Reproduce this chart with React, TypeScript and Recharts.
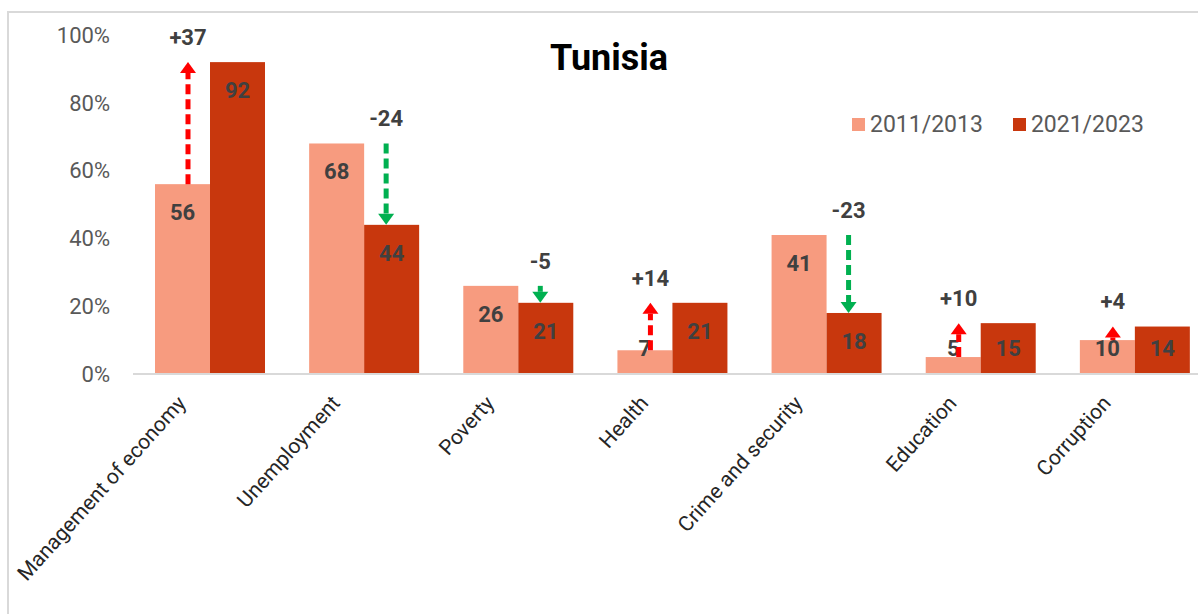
import { BarChart, Bar, XAxis, YAxis, Legend } from "recharts";

const categories = [
  "Management of economy",
  "Unemployment",
  "Poverty",
  "Health",
  "Crime and security",
  "Education",
  "Corruption",
];
const values2011 = [56, 68, 26, 7, 41, 5, 10];
const values2021 = [92, 44, 21, 21, 18, 15, 14];
const changeLabels = ["+37", "-24", "-5", "+14", "-23", "+10", "+4"];
const yTicks = [0, 20, 40, 60, 80, 100];
const seriesNames = ["2011/2013", "2021/2023"];

const data = categories.map((name, i) => ({
  name,
  early: values2011[i],
  late: values2021[i],
  change: changeLabels[i],
}));

const FONT = "Roboto, 'DejaVu Sans', sans-serif";
const LIGHT = "#F79B7F";
const DARK = "#C8370D";
const UP = "#FF0000";
const DOWN = "#00B050";

function ValueText({ cx, top, bottom, value }: { cx: number; top: number; bottom: number; value: number }) {
  const cy = Math.min(top + 28, bottom - 26);
  return (
    <text x={cx} y={cy} dy="0.36em" textAnchor="middle" fontFamily={FONT} fontWeight={700} fontSize={22} fill="#404040">
      {value}
    </text>
  );
}

function EarlyBar(props: any) {
  const { x, y, width, height, payload } = props;
  return (
    <g>
      <rect x={x} y={y} width={width} height={height} fill={LIGHT} />
      <ValueText cx={x + width / 2} top={y} bottom={y + height} value={payload.early} />
    </g>
  );
}

function Arrow({ x, from, to, color }: { x: number; from: number; to: number; color: string }) {
  const up = to < from;
  const head = 11;
  const half = 8;
  const lineEnd = up ? to + head : to - head;
  const hasLine = up ? lineEnd < from : lineEnd > from;
  return (
    <g>
      {hasLine && (
        <line x1={x} x2={x} y1={from} y2={lineEnd} stroke={color} strokeWidth={5} strokeDasharray="10 5" />
      )}
      <polygon points={`${x - half},${lineEnd} ${x + half},${lineEnd} ${x},${to}`} fill={color} />
    </g>
  );
}

function LateBar(props: any) {
  const { x, y, width, height, payload } = props;
  const bottom = y + height;
  const lightTop = bottom - (height * payload.early) / payload.late;
  const up = payload.late > payload.early;
  const ax = x + (up ? -0.4 : 0.4) * width;
  const labelY = Math.min(lightTop, y) - 25;
  return (
    <g>
      <rect x={x} y={y} width={width} height={height} fill={DARK} />
      <ValueText cx={x + width / 2} top={y} bottom={bottom} value={payload.late} />
      <Arrow x={ax} from={lightTop} to={y} color={up ? UP : DOWN} />
      <text x={ax} y={labelY} dy="0.36em" textAnchor="middle" fontFamily={FONT} fontWeight={700} fontSize={22} fill="#404040">
        {payload.change}
      </text>
    </g>
  );
}

function CategoryTick(props: any) {
  const { x, y, payload } = props;
  return (
    <g transform={`translate(${x - 23},${y + 30})`}>
      <text transform="rotate(-48)" textAnchor="end" fontFamily={FONT} fontSize={21} fill="#262626">
        {payload.value}
      </text>
    </g>
  );
}

function LegendContent(props: any) {
  const items = props.payload ?? [];
  return (
    <div style={{ display: "flex", alignItems: "center", fontFamily: FONT, fontSize: 23, color: "#595959" }}>
      {items.map((p: any, i: number) => (
        <div key={i} style={{ display: "flex", alignItems: "center", marginRight: 30 }}>
          <span style={{ display: "inline-block", width: 13, height: 13, background: p.color, marginRight: 5 }} />
          {p.value}
        </div>
      ))}
    </div>
  );
}

export default function App() {
  return (
    <div style={{ position: "fixed", left: 0, top: 0, width: 1198, height: 614, overflow: "hidden", background: "#fff" }}>
      <div
        style={{
          position: "absolute",
          left: 7,
          top: 11,
          width: 1240,
          height: 640,
          border: "2px solid #D9D9D9",
          background: "#fff",
        }}
      >
        <BarChart
          width={1213}
          height={611}
          data={data}
          margin={{ top: 22, right: 10, left: 0, bottom: 0 }}
          barCategoryGap={22}
          barGap={0}
        >
          <XAxis
            dataKey="name"
            interval={0}
            height={250}
            tickSize={0}
            tickMargin={0}
            tickLine={false}
            axisLine={{ stroke: "#D9D9D9", strokeWidth: 2 }}
            tick={<CategoryTick />}
          />
          <YAxis
            domain={[0, 100]}
            ticks={yTicks}
            tickFormatter={(v: number) => `${v}%`}
            axisLine={false}
            tickLine={false}
            tickSize={0}
            tickMargin={23}
            width={124}
            tick={{ fill: "#595959", fontSize: 22, fontFamily: FONT }}
          />
          <Legend
            layout="vertical"
            align="center"
            verticalAlign="middle"
            content={<LegendContent />}
            wrapperStyle={{ top: 98, left: 843, width: 380 }}
          />
          <Bar dataKey="early" name={seriesNames[0]} fill={LIGHT} shape={<EarlyBar />} isAnimationActive={false} />
          <Bar dataKey="late" name={seriesNames[1]} fill={DARK} shape={<LateBar />} isAnimationActive={false} />
        </BarChart>
        <div
          style={{
            position: "absolute",
            left: 600,
            top: 45,
            transform: "translate(-50%, -50%)",
            fontFamily: FONT,
            fontWeight: 700,
            fontSize: 36,
            color: "#000",
            whiteSpace: "nowrap",
          }}
        >
          Tunisia
        </div>
      </div>
    </div>
  );
}
